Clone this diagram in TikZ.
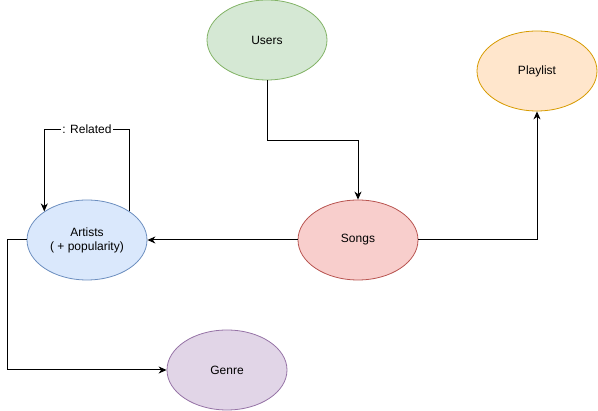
\documentclass[tikz,border=0pt]{standalone}
\usepackage{fontspec}
\setmainfont{Liberation Sans}
\usetikzlibrary{shapes.geometric,arrows.meta}

\definecolor{usersfill}{HTML}{D5E8D4}
\definecolor{usersline}{HTML}{82B366}
\definecolor{songsfill}{HTML}{F8CECC}
\definecolor{songsline}{HTML}{B85450}
\definecolor{artistsfill}{HTML}{DAE8FC}
\definecolor{artistsline}{HTML}{6C8EBF}
\definecolor{playfill}{HTML}{FFE6CC}
\definecolor{playline}{HTML}{D79B00}
\definecolor{genrefill}{HTML}{E1D5E7}
\definecolor{genreline}{HTML}{9673A6}

\tikzset{
  entity/.style={ellipse, minimum width=120pt, minimum height=80pt,
    inner sep=0pt, line width=0.8pt, align=center},
  link/.style={line width=1pt, -{Stealth[length=8pt,width=7pt,inset=2.5pt]}}
}

\begin{document}
\begin{tikzpicture}[x=1pt,y=-1pt,font=\fontsize{12}{14}\selectfont]
\useasboundingbox (0,0) rectangle (598,411);

% Users
\node[entity, draw=usersline, fill=usersfill] (users) at (267,40) {Users};

% Playlist
\node[entity, draw=playline, fill=playfill] (playlist) at (537,71) {Playlist};

% Songs
\node[entity, draw=songsline, fill=songsfill] (songs) at (358,240) {Songs};

% Artists
\node[entity, draw=artistsline, fill=artistsfill] (artists) at (87,240)
{Artists\\( + popularity)};

% Genre
\node[entity, draw=genreline, fill=genrefill] (genre) at (227,370) {Genre};

% Connections
\draw[link] (users.south) -- ++(0,60) -| (songs.north);
\draw[link] (songs.east) -| (playlist.south);
\draw[link] (songs.west) -- (artists.east);
\draw[link] (artists.west) -- ++(-19,0) |- (genre.west);

% Related (self loop)
\draw[link] (artists.north east) -- ++(0,-82)
  -| node[pos=0.25, fill=white, inner sep=1pt] {: Related} (artists.north west);
\end{tikzpicture}
\end{document}
